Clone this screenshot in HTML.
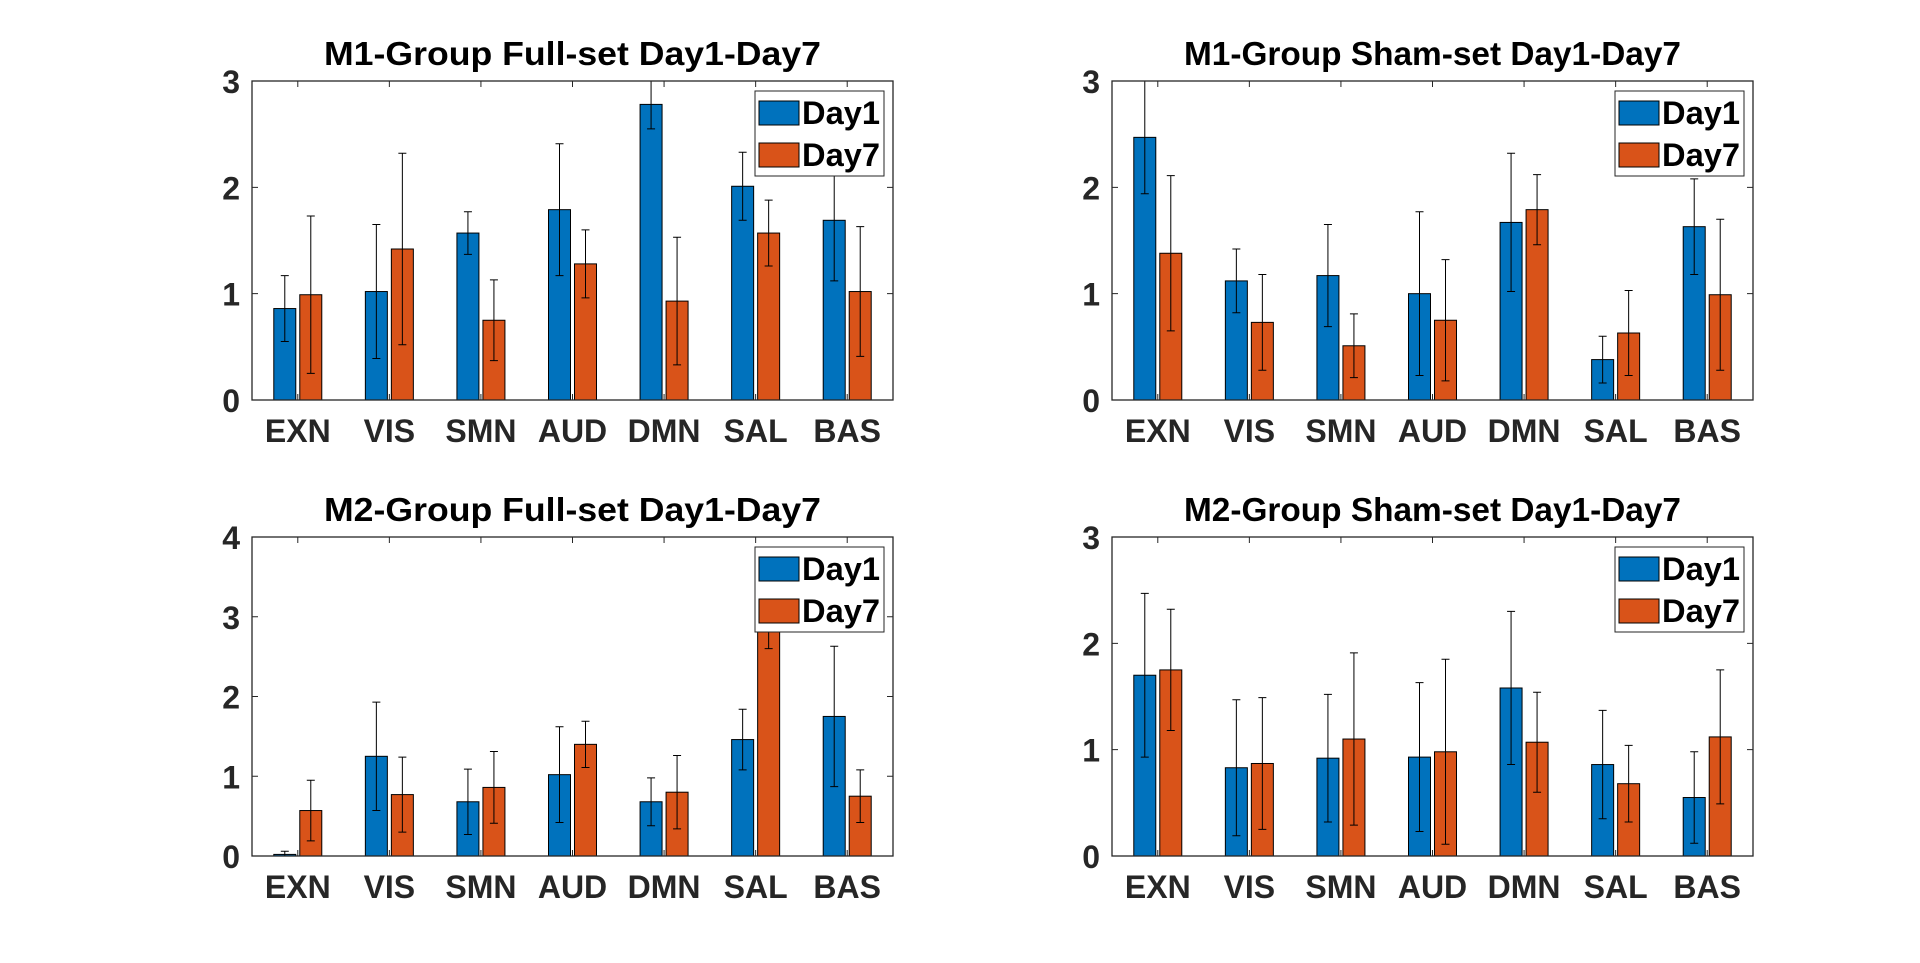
<!DOCTYPE html>
<html><head><meta charset="utf-8"><style>
body{margin:0;background:#fff;}
svg{display:block;font-family:"Liberation Sans",Arial,sans-serif;font-weight:bold;}
</style></head><body>
<svg id="fig" width="1920" height="963" viewBox="0 0 1920 963"></svg>
<script>
const categories=["EXN","VIS","SMN","AUD","DMN","SAL","BAS"];
const seriesNames=["Day1","Day7"];
const titles=["M1-Group Full-set Day1-Day7","M1-Group Sham-set Day1-Day7","M2-Group Full-set Day1-Day7","M2-Group Sham-set Day1-Day7"];
const yMaxes=[3,3,4,3];
const yTicksA=[0,1,2,3];
const yTicksB=[0,1,2,3,4];
const m1FullDay1=[0.86,1.02,1.57,1.79,2.78,2.01,1.69];
const m1FullDay7=[0.99,1.42,0.75,1.28,0.93,1.57,1.02];
const m1FullErr1=[0.31,0.63,0.20,0.62,0.23,0.32,0.57];
const m1FullErr7=[0.74,0.90,0.38,0.32,0.60,0.31,0.61];
const m1ShamDay1=[2.47,1.12,1.17,1.00,1.67,0.38,1.63];
const m1ShamDay7=[1.38,0.73,0.51,0.75,1.79,0.63,0.99];
const m1ShamErr1=[0.53,0.30,0.48,0.77,0.65,0.22,0.45];
const m1ShamErr7=[0.73,0.45,0.30,0.57,0.33,0.40,0.71];
const m2FullDay1=[0.02,1.25,0.68,1.02,0.68,1.46,1.75];
const m2FullDay7=[0.57,0.77,0.86,1.40,0.80,3.10,0.75];
const m2FullErr1=[0.04,0.68,0.41,0.60,0.30,0.38,0.88];
const m2FullErr7=[0.38,0.47,0.45,0.29,0.46,0.50,0.33];
const m2ShamDay1=[1.70,0.83,0.92,0.93,1.58,0.86,0.55];
const m2ShamDay7=[1.75,0.87,1.10,0.98,1.07,0.68,1.12];
const m2ShamErr1=[0.77,0.64,0.60,0.70,0.72,0.51,0.43];
const m2ShamErr7=[0.57,0.62,0.81,0.87,0.47,0.36,0.63];

const NS="http://www.w3.org/2000/svg";
const svg=document.getElementById('fig');
function mk(tag,attrs,parent,text){const e=document.createElementNS(NS,tag);for(const k in attrs)e.setAttribute(k,attrs[k]);if(text!==undefined)e.textContent=text;(parent||svg).appendChild(e);return e;}
const colors=["#0072BD","#D95319"];
function panel(idx,x0,y0,d1,d7,e1,e7,ticks){
  const W=641,H=319,ymax=yMaxes[idx];
  const g=mk('g',{});
  
  
  const xs=i=>x0+(i+0.5)*W/7;
  const ys=v=>y0+H-Math.min(v,ymax)/ymax*H;
  const clip='clip'+idx;
  const cp=mk('clipPath',{id:clip},g);mk('rect',{x:x0,y:y0,width:W,height:H},cp);
  const t=mk('text',{x:x0+W/2,y:y0-16,'text-anchor':'middle','font-size':33,fill:'#000',textLength:497,lengthAdjust:'spacingAndGlyphs'},g,titles[idx]);
  
  
  const bars=mk('g',{'clip-path':'url(#'+clip+')'},g);
  const vals=[d1,d7],errs=[e1,e7];
  for(let s=0;s<2;s++){
    for(let i=0;i<categories.length;i++){
      const cx=xs(i)+(s===0?-13:13);
      const top=ys(vals[s][i]);
      const r=mk('rect',{x:cx-11,y:top,width:22,height:y0+H-top,fill:colors[s],stroke:'#000','stroke-width':1},bars);
      
      
      const hi=ys(vals[s][i]+errs[s][i]),lo=ys(vals[s][i]-errs[s][i]);
      const eb=mk('path',{d:`M${cx},${hi}V${lo}M${cx-4},${hi}H${cx+4}M${cx-4},${lo}H${cx+4}`,stroke:'#000','stroke-width':1,fill:'none'},bars);
      
      
    }
  }
  mk('rect',{x:x0,y:y0,width:W,height:H,fill:'none',stroke:'#262626','stroke-width':1.3},g);
  ticks.forEach(v=>{
    const y=ys(v);
    mk('path',{d:`M${x0},${y}h6M${x0+W},${y}h-6`,stroke:'#262626','stroke-width':1},g);
    const tl=mk('text',{x:x0-12,y:y+12,'text-anchor':'end','font-size':32,fill:'#262626'},g,String(v));
    
    
  });
  categories.forEach((c,i)=>{
    const x=xs(i);
    mk('path',{d:`M${x},${y0+H}v-6M${x},${y0}v6`,stroke:'#262626','stroke-width':1},g);
    const xl=mk('text',{x:x,y:y0+H+42,'text-anchor':'middle','font-size':32,fill:'#262626'},g,c);
    
    
  });
  const lg=mk('g',{},g);
  
  
  const lx=x0+W-138,ly=y0+10;
  mk('rect',{x:lx,y:ly,width:129,height:85,fill:'#fff',stroke:'#262626','stroke-width':1},lg);
  seriesNames.forEach((n,s)=>{
    mk('rect',{x:lx+4,y:ly+10+s*42,width:40,height:24,fill:colors[s],stroke:'#000','stroke-width':1},lg);
    const le=mk('text',{x:lx+47,y:ly+33+s*42,'font-size':32,fill:'#000',textLength:78,lengthAdjust:'spacingAndGlyphs'},lg,n);
    
    
  });
}
panel(0,252,81,m1FullDay1,m1FullDay7,m1FullErr1,m1FullErr7,yTicksA);
panel(1,1112,81,m1ShamDay1,m1ShamDay7,m1ShamErr1,m1ShamErr7,yTicksA);
panel(2,252,537,m2FullDay1,m2FullDay7,m2FullErr1,m2FullErr7,yTicksB);
panel(3,1112,537,m2ShamDay1,m2ShamDay7,m2ShamErr1,m2ShamErr7,yTicksA);
</script>
</body></html>
